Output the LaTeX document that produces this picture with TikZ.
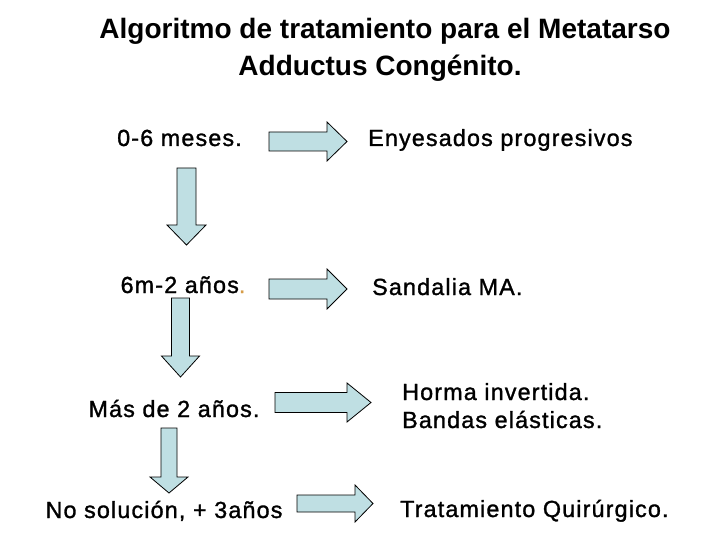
\documentclass[tikz,border=0pt]{standalone}
\usepackage{fontspec}
\setmainfont{Liberation Sans}
\newfontfamily\bodyfont{Liberation Sans}[LetterSpace=5, FakeBold=1.3]
\definecolor{arrowfill}{RGB}{191,223,227}
\definecolor{dotorange}{RGB}{214,156,72}
\tikzset{
  titletext/.style={inner sep=0pt, anchor=base, font=\fontsize{28}{34}\selectfont\bfseries},
  stagetext/.style={inner sep=0pt, anchor=base, font=\bodyfont\fontsize{23.3}{28}\selectfont},
  resulttext/.style={inner sep=0pt, anchor=base west, font=\bodyfont\fontsize{23.3}{28}\selectfont},
  blockarrow/.style={draw=black, line width=0.8pt, fill=arrowfill, line join=miter}
}
\begin{document}
\begin{tikzpicture}[x=1pt,y=-1pt]
        \useasboundingbox (0,0) rectangle (720,540);
        % Title
        \node[titletext] (title1) at (385,39) {Algoritmo de tratamiento para el Metatarso};
        \node[titletext] (title2) at (380,76) {Adductus Congénito.};
        % Age stages
        \node[stagetext] (age1) at (179.5,146) {0-6 meses.};
        \node[stagetext] (age2) at (183,293) {6m-2 años\textcolor{dotorange}{.}};
        \node[stagetext] (age3) at (174,417) {Más de 2 años.};
        \node[stagetext] (age4) at (164,518) {No solución, + 3años};
        % Treatments
        \node[resulttext] (treat1) at (368,146) {Enyesados progresivos};
        \node[resulttext] (treat2) at (372,295) {Sandalia MA.};
        \node[resulttext] (treat3) at (402,400) {Horma invertida.};
        \node[resulttext] (treat3b) at (402,428) {Bandas elásticas.};
        \node[resulttext] (treat4) at (400,517) {Tratamiento Quirúrgico.};
        % Block arrows to the right
        \foreach \xa/\xb/\xc/\yc/\bw/\hw in {269/327/347/141.5/9.5/19.5, 269/327/347/289/10/20,
                                             275/347/371/402.5/10/19.5, 297/355/373/503.5/8.5/18.5}
        {
            \draw[blockarrow] (\xa,\yc-\bw) -- (\xb,\yc-\bw) -- (\xb,\yc-\hw) -- (\xc,\yc)
                -- (\xb,\yc+\hw) -- (\xb,\yc+\bw) -- (\xa,\yc+\bw) -- cycle;
        }
        % Block arrows downwards
        \foreach \xc/\ya/\yb/\yt/\bw/\hw in {186.5/168/225/245/9.5/19.5, 180.5/298/356/377/9/19,
                                             169/428/477/493/8/19}
        {
            \draw[blockarrow] (\xc-\bw,\ya) -- (\xc+\bw,\ya) -- (\xc+\bw,\yb) -- (\xc+\hw,\yb)
                -- (\xc,\yt) -- (\xc-\hw,\yb) -- (\xc-\bw,\yb) -- cycle;
        }
\end{tikzpicture}
\end{document}
